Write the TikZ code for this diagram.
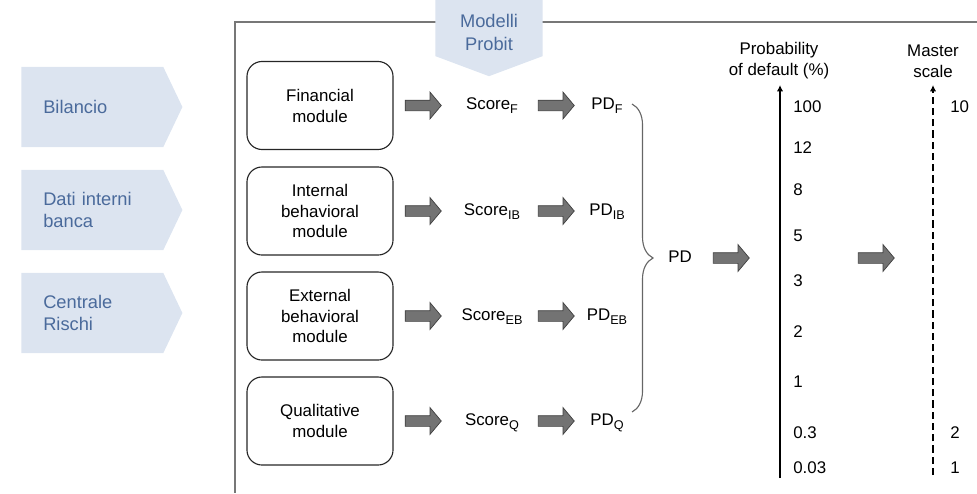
\documentclass[tikz,border=0pt]{standalone}
\usepackage{fontspec}
\setmainfont{Liberation Sans}
\usetikzlibrary{arrows.meta, shapes.symbols, shapes.arrows, decorations.pathreplacing, calc, positioning}
\definecolor{srcFill}{HTML}{DCE4F0}
\definecolor{srcText}{HTML}{4A6A9B}
\definecolor{arrFill}{HTML}{737373}
\definecolor{frameGray}{HTML}{777777}
\tikzset{
    srcSig/.style={signal, signal to=east, signal pointer angle=129, fill=srcFill, text=srcText,
        font=\fontsize{13}{16.3}\selectfont, align=left, text width=2.45cm, inner xsep=0.55cm,
        inner ysep=0pt, minimum height=2cm},
    probitSig/.style={signal, signal to=south, signal pointer angle=139, fill=srcFill, text=srcText,
        font=\fontsize{13}{16.3}\selectfont, align=center, text width=2.475cm, inner xsep=0.1cm,
        inner ysep=0.15cm},
    module/.style={draw=black!85, line width=0.8pt, rounded corners=0.375cm, minimum width=3.65cm,
        minimum height=2.2cm, align=center, font=\fontsize{12}{14.9}\selectfont},
    blockArr/.style={single arrow, draw=black!75, fill=arrFill, line width=0.5pt, inner xsep=0pt,
        inner ysep=0.125cm, minimum height=0.9cm, minimum width=0.65cm,
        single arrow head extend=0.2cm, single arrow tip angle=100},
    lbl/.style={font=\fontsize{12}{14.9}\selectfont, inner sep=0pt},
    frame/.style={draw=frameGray, line width=1pt},
    pdBrace/.style={draw=black!60, line width=0.8pt, decorate, decoration={brace, amplitude=0.525cm}},
    probAxis/.style={line width=2.1pt, -{Latex[length=4.5pt, width=4.5pt]}},
    masterAxis/.style={line width=2.1pt, dash pattern=on 5pt off 3pt, -{Latex[length=4.5pt, width=4.5pt]}},
}
\newcommand{\lsub}[1]{\raisebox{-0.45ex}{\fontsize{9}{9}\selectfont #1}}
\newcommand{\blockArrow}[2]{\node[blockArr] (#1) at (#2) {};}

\begin{document}
\begin{tikzpicture}[x=0.025cm, y=-0.025cm]
    \useasboundingbox (0,0) rectangle (977,493);

    % cornice del riquadro
    \draw[frame] (977,22) -- (235,22) -- (235,493);

    % fonti dati
    \node[srcSig, anchor=west] (bil) at (21,107) {Bilancio};
    \node[srcSig, anchor=west] (dati) at (21,210) {Dati interni\\banca};
    \node[srcSig, anchor=west] (cr) at (21,313) {Centrale\\Rischi};

    \node[probitSig, anchor=north] (probit) at (489,-4) {\rule{0pt}{0.62cm}Modelli\\Probit};

    % moduli
    \node[module] (fin) at (320,105.5) {Financial\\module};
    \node[module] (intb) at (320,211) {Internal\\behavioral\\module};
    \node[module] (extb) at (320,316) {External\\behavioral\\module};
    \node[module] (qual) at (320,421) {Qualitative\\module};

    \foreach \s/\y in {F/105.5, IB/211, EB/316, Q/421} {
        \blockArrow{a\s}{421,\y}
        \node[lbl, anchor=base] (sc\s) at (492,\y+4) {Score\lsub{\s}};
        \blockArrow{b\s}{554,\y}
        \node[lbl, anchor=base] (pd\s) at (607,\y+4) {PD\lsub{\s}};
    }

    % parentesi e PD
    \coordinate (bTop) at (632,104);
    \coordinate (bBot) at (632,412);
    \draw[pdBrace] (bTop) -- (bBot);
    \node[lbl] (pd) at (680,257) {PD};
    \blockArrow{cPD}{729,258}

    % scala PD
    \node[lbl, align=center] (probT) at (779,61) {Probability\\of default (\%)};
    \coordinate (pBot) at (780,478);
    \coordinate (pTop) at (780,85);
    \draw[probAxis] (pBot) -- (pTop);
    \foreach \v/\y [count=\i] in {100/107, 12/148, 8/190, 5/236, 3/281, 2/332, 1/382, 0.3/433, 0.03/468}
        \node[lbl, anchor=west] (tk\i) at (793,\y) {\v};

    \blockArrow{dMS}{874,258}

    % master scale
    \node[lbl, align=center] (msT) at (933,61) {Master\\scale};
    \coordinate (mBot) at (933,475);
    \coordinate (mTop) at (933,85);
    \draw[masterAxis] (mBot) -- (mTop);
    \foreach \v/\y [count=\i] in {10/107, 2/433, 1/468}
        \node[lbl, anchor=west] (ms\i) at (950,\y) {\v};
\end{tikzpicture}
\end{document}
